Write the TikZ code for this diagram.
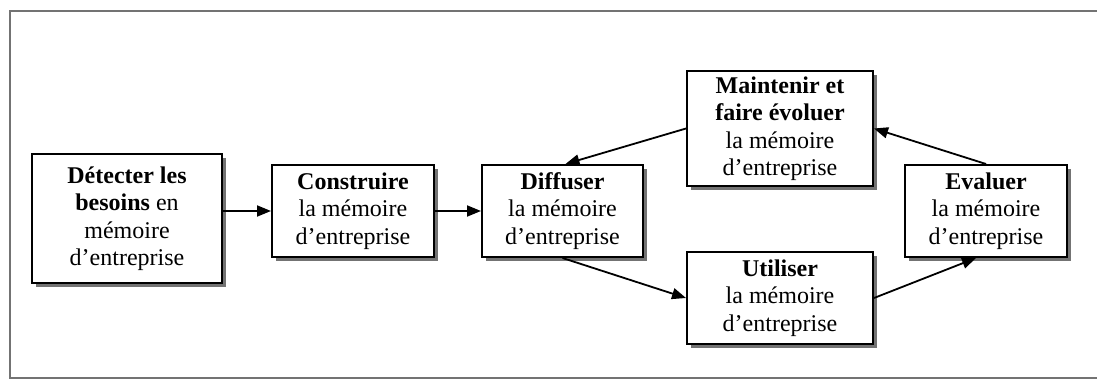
\documentclass[tikz,border=0pt]{standalone}
\usepackage{fontspec}
\setmainfont{Liberation Serif}
\usetikzlibrary{arrows.meta,shadows}
\begin{document}
\begin{tikzpicture}[x=1pt,y=1pt,
  stage/.style={draw=black, line width=2pt, fill=white, inner sep=0pt,
    align=center, font=\fontsize{24}{27.5}\selectfont,
    drop shadow={shadow xshift=4pt, shadow yshift=-4pt, fill=black!55, opacity=1}},
  flow/.style={line width=1.8pt, -{Triangle[length=14pt,width=11pt]}},
  frame/.style={draw=black!55, line width=2pt}]
\useasboundingbox (0,0) rectangle (1097,381);
% outer frame
\draw[frame] (1100,370) -- (10,370) -- (10,3) -- (1100,3);
% stages
\node[stage, minimum width=190pt, minimum height=129pt] (det) at (127,162.5)
  {\textbf{Détecter les}\\\textbf{besoins} en\\mémoire\\d’entreprise};
\node[stage, minimum width=162pt, minimum height=92pt] (con) at (353,170)
  {\textbf{Construire}\\la mémoire\\d’entreprise};
\node[stage, minimum width=161pt, minimum height=92pt] (dif) at (562.5,170)
  {\textbf{Diffuser}\\la mémoire\\d’entreprise};
\node[stage, minimum width=186pt, minimum height=115pt] (mai) at (780,252.5)
  {\textbf{Maintenir et}\\\textbf{faire évoluer}\\la mémoire\\d’entreprise};
\node[stage, minimum width=186pt, minimum height=92pt] (uti) at (780,83)
  {\textbf{Utiliser}\\la mémoire\\d’entreprise};
\node[stage, minimum width=162pt, minimum height=92pt] (eva) at (986,170)
  {\textbf{Evaluer}\\la mémoire\\d’entreprise};
% connectors
\draw[flow] (det.east |- con.west) -- (con.west);
\draw[flow] (con.east) -- (dif.west);
\draw[flow] (mai.west) -- ([xshift=3pt]dif.north);
\draw[flow] (dif.south) -- (uti.west);
\draw[flow] (uti.east) -- ([xshift=-10pt]eva.south);
\draw[flow] (eva.north) -- (mai.east);
\end{tikzpicture}
\end{document}
